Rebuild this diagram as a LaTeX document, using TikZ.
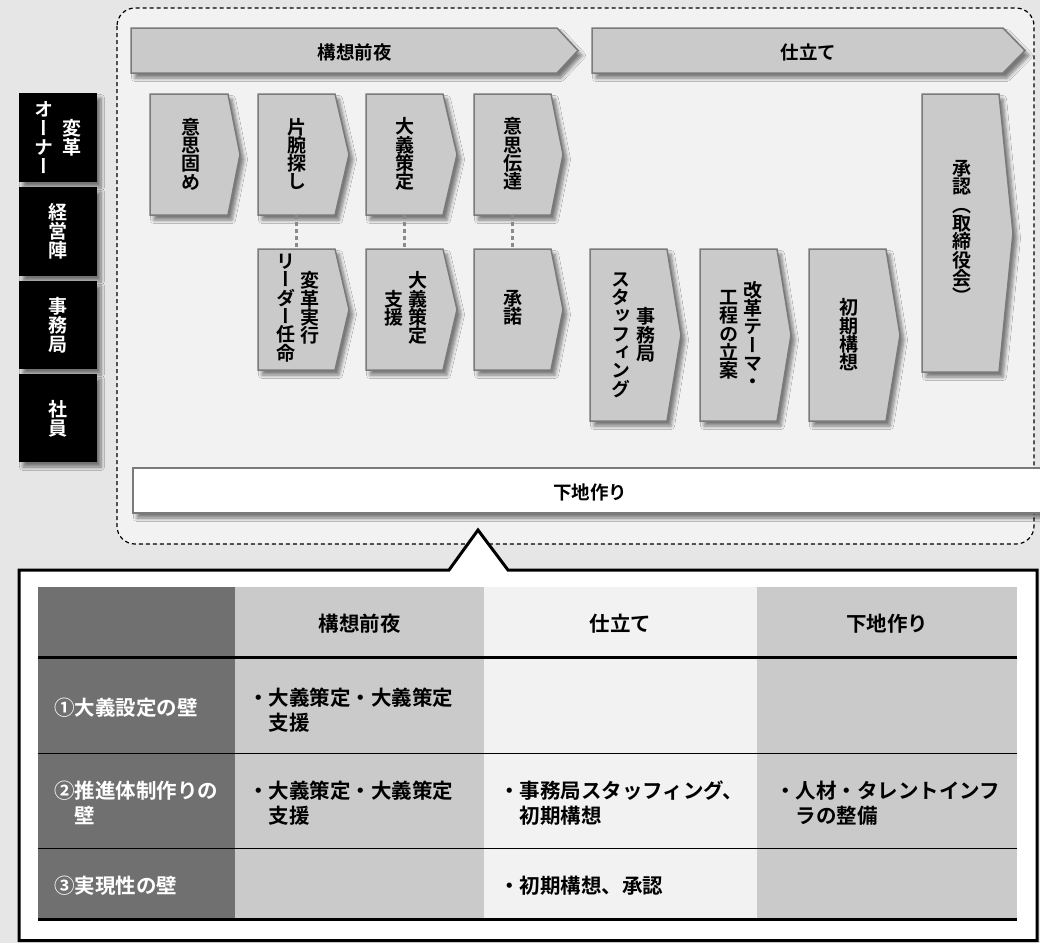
\documentclass[tikz,border=0pt]{standalone}
\usepackage{fontspec}
\setmainfont{Noto Sans CJK JP}[UprightFont=* Bold]
\newfontfamily\vfont{Noto Sans CJK JP}[UprightFont=* Bold, RawFeature=+vert]
\usetikzlibrary{shadows.blur}
\definecolor{pagebg}{HTML}{E6E6E6}
\definecolor{areabg}{HTML}{F1F2F1}
\definecolor{boxfill}{HTML}{C9CAC9}
\definecolor{boxline}{HTML}{7A7A7A}
\definecolor{darkcol}{HTML}{707070}
\definecolor{linkgray}{HTML}{8A8A8A}
% one vertical column of characters, lines exactly \baselineskip apart
\newcommand\vc[1]{$\vcenter{\lineskiplimit=-100pt\def\\{\cr}\halign{\hfil##\hfil\cr#1\crcr}}$}
\tikzset{
  shad/.style={blur shadow={shadow xshift=4pt, shadow yshift=-5pt, shadow blur steps=6, shadow blur radius=3.5pt, shadow opacity=50}},
  chev/.style={fill=boxfill, draw=boxline, line width=1.5pt, line join=miter, shad},
  body/.style={inner sep=0pt, draw=none},
  vtxt/.style={font={\vfont\fontsize{19}{18.3}\selectfont}, inner sep=0pt},
  htxt/.style={font={\fontsize{18.5}{22}\selectfont}, inner sep=0pt, yshift=-2pt},
  wtxt/.style={font={\vfont\fontsize{19}{19}\selectfont}, inner sep=0pt, text=white},
  blk/.style={fill=black, draw=none, inner sep=0pt, minimum width=78pt, shad},
  link/.style={draw=linkgray, line width=3pt, dash pattern=on 4pt off 3pt},
  region/.style={draw=black, fill=areabg, line width=1.2pt, dash pattern=on 4pt off 3pt, rounded corners=18pt},
  ttxt/.style={font={\fontsize{20.5}{25}\selectfont}, inner sep=0pt, yshift=-2pt, align=left},
}
% name, x1, y1, x2, y2, tip
\newcommand\chevshape[6]{%
  \path[chev] (#2,#3) -- (#4,#3) -- (#6,{(#3+#5)/2}) -- (#4,#5) -- (#2,#5) -- cycle;
  \node[body, minimum width={(#4-#2)*1pt}, minimum height={(#5-#3)*1pt}] (#1) at ({(#2+#4)/2},{(#3+#5)/2}) {};
}
\begin{document}
\begin{tikzpicture}[x=1pt,y=-1pt]
\useasboundingbox (0,0) rectangle (1040,943);
\fill[pagebg] (0,0) rectangle (1040,943);
\draw[region] (117,8) rectangle (1034,544);

% phase banners
\chevshape{ph1}{131}{28}{557}{73}{578}
\node[htxt] (ph1t) at (354.5,50.5) {構想前夜};
\chevshape{ph2}{592}{28}{1003}{73}{1025}
\node[htxt] (ph2t) at (808.5,50.5) {仕立て};

% row 1
\chevshape{t1}{150}{94}{228}{215}{240}
\node[vtxt] (t1t) at (191,154) {\vc{意\\思\\固\\め}};
\chevshape{t2}{258}{94}{335}{215}{349}
\node[vtxt] (t2t) at (297,154) {\vc{片\\腕\\探\\し}};
\chevshape{t3}{366}{94}{443}{215}{457}
\node[vtxt] (t3t) at (405,154) {\vc{大\\義\\策\\定}};
\chevshape{t4}{474}{94}{551}{215}{563}
\node[vtxt] (t4t) at (513,154) {\vc{意\\思\\伝\\達}};

% row 2
\chevshape{m2}{258}{249}{335}{370}{349}
\node[vtxt] (m2t) at (298,308) {\vc{リ\\ー\\ダ\\ー\\任\\命}\hspace{5pt}\vc{変\\革\\実\\行}};
\chevshape{m3}{366}{249}{443}{370}{457}
\node[vtxt] (m3t) at (406,308) {\vc{支\\援}\hspace{5pt}\vc{大\\義\\策\\定}};
\chevshape{m4}{474}{249}{551}{370}{563}
\node[vtxt] (m4t) at (513,308) {\vc{承\\諾}};

% staffing row
\chevshape{s1}{590}{249}{667}{421}{681}
\node[vtxt] (s1t) at (633,335) {\vc{ス\\タ\\ッ\\フ\\ィ\\ン\\グ}\hspace{6pt}\vc{事\\務\\局}};
\chevshape{s2}{700}{249}{777}{421}{791}
\node[vtxt] (s2t) at (741,335) {\vc{工\\程\\の\\立\\案}\hspace{5pt}\vc{改\\革\\テ\\ー\\マ\\・}};
\chevshape{s3}{809}{249}{886}{421}{900}
\node[vtxt] (s3t) at (849,335) {\vc{初\\期\\構\\想}};

% approval
\chevshape{ap}{922}{94}{999}{372}{1013}
\node[vtxt] (apt) at (962,232) {\vc{承\\認\\（\\取\\締\\役\\会\\）}};

% connectors
\draw[link] (t2.south) -- (m2.north);
\draw[link] (t3.south) -- (m3.north);
\draw[link] (t4.south) -- (m4.north);

% foundation bar
\path[fill=white, draw=boxline, line width=1.5pt, shad] (133,468) rectangle (1047,513);
\node[body, minimum width=914pt, minimum height=45pt] (base) at (590,490.5) {};
\node[htxt] (baset) at (590,490.5) {下地作り};

% role boxes
\node[blk, minimum height=89pt] (r1) at (58,137.5) {};
\node[wtxt] (r1t) at (58,138) {\vc{オ\\ー\\ナ\\ー}\hspace{9pt}\vc{変\\革}};
\node[blk, minimum height=89pt] (r2) at (58,231.5) {};
\node[wtxt] (r2t) at (58,231) {\vc{経\\営\\陣}};
\node[blk, minimum height=88pt] (r3) at (58,325) {};
\node[wtxt] (r3t) at (58,325) {\vc{事\\務\\局}};
\node[blk, minimum height=88pt] (r4) at (58,418) {};
\node[wtxt] (r4t) at (58,419) {\vc{社\\員}};

% callout
\draw[line width=3pt, fill=white, line join=miter] (19,570) -- (449,570) -- (478,530) -- (508,570) -- (1037,570) -- (1037,940.5) -- (19,940.5) -- cycle;

% table
\fill[darkcol] (38,587) rectangle (235,919);
\fill[boxfill] (235,587) rectangle (484,919);
\fill[areabg] (484,587) rectangle (757,919);
\fill[boxfill] (757,587) rectangle (1017,919);
\draw[line width=3pt] (38,657) -- (1017,657);
\draw[line width=1pt] (38,753) -- (1017,753);
\draw[line width=1pt] (38,848) -- (1017,848);
\draw[line width=3pt] (38,919) -- (1017,919);

\node[ttxt] (h2) at (359.5,622) {構想前夜};
\node[ttxt] (h3) at (620.5,622) {仕立て};
\node[ttxt] (h4) at (887,622) {下地作り};

\node[ttxt, text=white, anchor=west] (l1) at (54,706) {①大義設定の壁};
\node[ttxt, text=white, anchor=west] (l2) at (54,801) {②推進体制作りの\\\phantom{②}壁};
\node[ttxt, text=white, anchor=west] (l3) at (54,884) {③実現性の壁};

\node[ttxt, anchor=west] (c12) at (248,708) {・大義策定・大義策定\\　支援};
\node[ttxt, anchor=west] (c22) at (248,801) {・大義策定・大義策定\\　支援};
\node[ttxt, anchor=west] (c23) at (499,801) {・事務局スタッフィング、\\　初期構想};
\node[ttxt, anchor=west] (c24) at (775,801) {・人材・タレントインフ\\　ラの整備};
\node[ttxt, anchor=west] (c33) at (499,884) {・初期構想、承認};
\end{tikzpicture}
\end{document}
